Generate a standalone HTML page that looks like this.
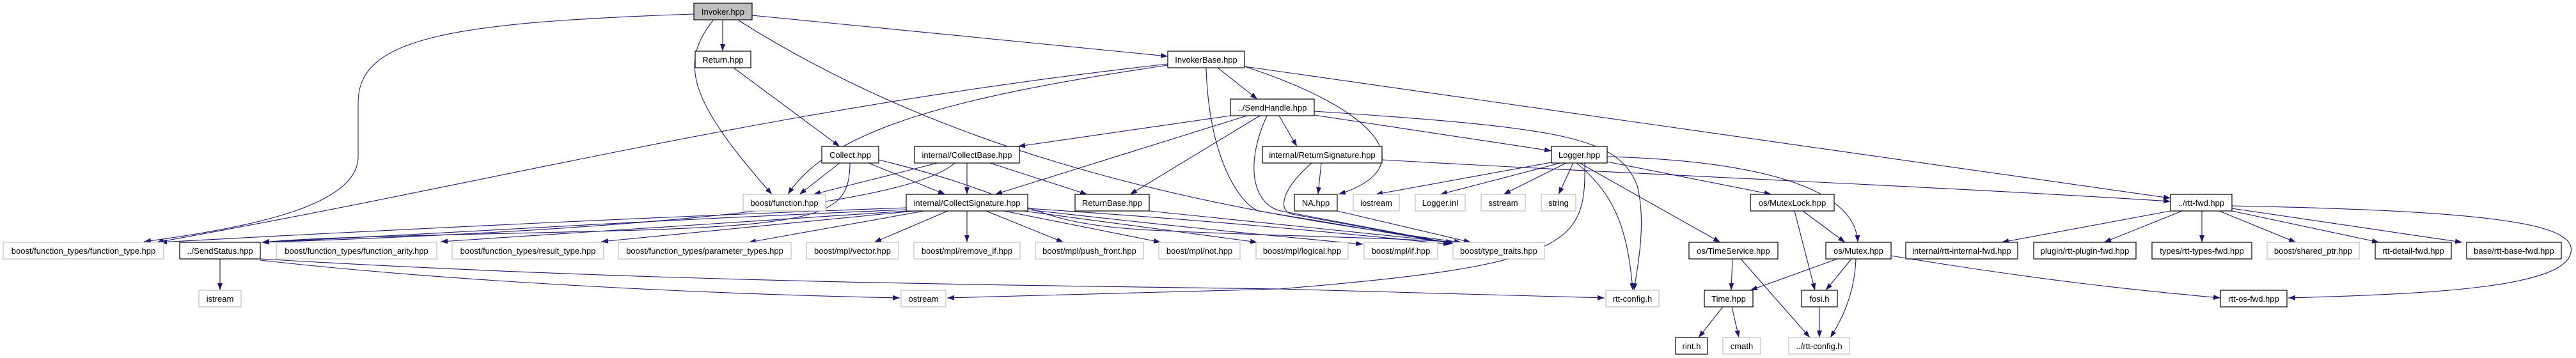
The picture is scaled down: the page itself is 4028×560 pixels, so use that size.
<!DOCTYPE html>
<html><head><meta charset="utf-8"><style>
html,body{margin:0;padding:0;background:#fff;}
svg{display:block;}
text{font-family:"Liberation Sans",sans-serif;font-size:13px;fill:#000;}
.n{fill:#fff;stroke:#000;stroke-width:1.2;}
.g{fill:#fff;stroke:#bfbfbf;stroke-width:1.2;}
.e{fill:none;stroke:#191970;stroke-width:1.1;marker-end:url(#a);}
</style></head><body>
<svg width="4028" height="560" viewBox="0 0 4028 560" xmlns="http://www.w3.org/2000/svg">
<defs><marker id="a" markerUnits="userSpaceOnUse" markerWidth="12" markerHeight="10" refX="11" refY="4" orient="auto"><path d="M0,0 L11,4 L0,8 z" fill="#191970"/></marker></defs>
<g>
<path class="e" d="M1085,22 C700,35 560,60 560,160 L560,245 C560,320 400,355 225,378"/>
<path class="e" d="M1130,32 L1130,80"/>
<path class="e" d="M1115,32 C1060,100 1080,160 1207,304"/>
<path class="e" d="M1176,24 L1826,88"/>
<path class="e" d="M1155,32 C1500,250 1900,330 2285,379"/>
<path class="e" d="M1147,106 L1313,229"/>
<path class="e" d="M1313,255 L1250,304"/>
<path class="e" d="M1358,255 L1478,304"/>
<path class="e" d="M1329,255 C1328,330 1300,350 1000,360 C700,368 500,370 410,379"/>
<path class="e" d="M1374,250 C1620,310 1600,350 1800,360 C2000,370 2200,372 2272,379"/>
<path class="e" d="M1466,255 L1272,304"/>
<path class="e" d="M1512,255 L1512,304"/>
<path class="e" d="M1548,255 L1700,304"/>
<path class="e" d="M1493,255 C1420,320 1000,360 410,379"/>
<path class="e" d="M1826,102 C1500,150 1300,200 1232,304"/>
<path class="e" d="M1826,100 C1200,170 800,280 245,379"/>
<path class="e" d="M1904,106 L1966,155"/>
<path class="e" d="M1886,106 C1890,250 1940,320 1968,330 L2272,381"/>
<path class="e" d="M1946,104 C2150,170 2230,260 2093,304"/>
<path class="e" d="M1946,104 L3394,310"/>
<path class="e" d="M1924,181 L1592,229"/>
<path class="e" d="M1950,181 L1556,304"/>
<path class="e" d="M1970,181 L1767,304"/>
<path class="e" d="M2000,181 L2028,229"/>
<path class="e" d="M2055,180 L2426,236"/>
<path class="e" d="M2055,174 C2450,200 2530,215 2560,290 C2575,350 2560,420 2555,454"/>
<path class="e" d="M1981,181 C1945,260 1960,320 2003,330 L2272,381"/>
<path class="e" d="M2051,255 C2000,300 2000,330 2020,335 L2272,381"/>
<path class="e" d="M2066,255 L2061,304"/>
<path class="e" d="M2161,250 C2600,275 3000,290 3394,315"/>
<path class="e" d="M1417,325 C1000,340 600,360 250,379"/>
<path class="e" d="M1417,328 C1000,345 700,365 409,379"/>
<path class="e" d="M1420,330 L689,378"/>
<path class="e" d="M1430,330 L940,378"/>
<path class="e" d="M1445,330 L1171,379"/>
<path class="e" d="M1482,330 L1367,379"/>
<path class="e" d="M1512,330 L1512,379"/>
<path class="e" d="M1542,330 L1663,379"/>
<path class="e" d="M1570,330 L1815,379"/>
<path class="e" d="M1600,330 L1966,379"/>
<path class="e" d="M1607,328 C1800,350 2000,370 2131,382"/>
<path class="e" d="M1607,326 C1900,345 2100,365 2268,382"/>
<path class="e" d="M1797,330 L2272,379"/>
<path class="e" d="M2091,330 L2300,379"/>
<path class="e" d="M2426,254 L2151,304"/>
<path class="e" d="M2440,255 L2252,304"/>
<path class="e" d="M2449,255 L2351,304"/>
<path class="e" d="M2460,255 L2437,304"/>
<path class="e" d="M2513,253 L2770,304"/>
<path class="e" d="M2513,245 C2700,250 2900,280 2905,379"/>
<path class="e" d="M2470,255 L2690,379"/>
<path class="e" d="M2465,255 C2520,300 2545,350 2553,454"/>
<path class="e" d="M2478,255 C2480,380 2460,415 2000,452 L1481,466"/>
<path class="e" d="M344,405 L344,454"/>
<path class="e" d="M407,407 C700,440 1100,460 1407,466"/>
<path class="e" d="M407,405 C1000,440 1500,445 2000,452 L2509,466"/>
<path class="e" d="M2819,330 L2885,379"/>
<path class="e" d="M2806,330 L2838,454"/>
<path class="e" d="M2873,405 L2737,454"/>
<path class="e" d="M2895,405 L2855,454"/>
<path class="e" d="M2902,405 C2900,460 2880,500 2862,528"/>
<path class="e" d="M2957,400 C3200,440 3350,455 3472,466"/>
<path class="e" d="M2709,405 L2707,454"/>
<path class="e" d="M2722,405 L2830,528"/>
<path class="e" d="M2694,480 L2656,528"/>
<path class="e" d="M2708,480 L2719,528"/>
<path class="e" d="M2845,480 L2845,528"/>
<path class="e" d="M3394,330 L3130,379"/>
<path class="e" d="M3412,330 L3290,379"/>
<path class="e" d="M3443,330 L3443,379"/>
<path class="e" d="M3470,330 L3590,379"/>
<path class="e" d="M3490,330 L3720,379"/>
<path class="e" d="M3490,326 L3850,379"/>
<path class="e" d="M3490,322 C3900,330 4030,350 4020,395 C4010,450 3800,460 3578,466"/>
</g>
<g>
<rect x="1085" y="5" width="91" height="26" fill="#bfbfbf" stroke="#000" stroke-width="1.2"/><text x="1130.5" y="23" text-anchor="middle">Invoker.hpp</text>
<rect class="n" x="1087" y="80" width="87" height="26"/><text x="1130.5" y="98" text-anchor="middle">Return.hpp</text>
<rect class="n" x="1826" y="80" width="120" height="26"/><text x="1886" y="98" text-anchor="middle">InvokerBase.hpp</text>
<rect class="n" x="1924" y="155" width="131" height="26"/><text x="1989.5" y="173" text-anchor="middle">../SendHandle.hpp</text>
<rect class="n" x="1285" y="229" width="89" height="26"/><text x="1329.5" y="247" text-anchor="middle">Collect.hpp</text>
<rect class="n" x="1430" y="229" width="164" height="26"/><text x="1512" y="247" text-anchor="middle">internal/CollectBase.hpp</text>
<rect class="n" x="1974" y="229" width="187" height="26"/><text x="2067.5" y="247" text-anchor="middle">internal/ReturnSignature.hpp</text>
<rect class="n" x="2426" y="229" width="87" height="26"/><text x="2469.5" y="247" text-anchor="middle">Logger.hpp</text>
<rect class="g" x="1162" y="304" width="129" height="26"/><text x="1226.5" y="322" text-anchor="middle">boost/function.hpp</text>
<rect class="n" x="1417" y="304" width="190" height="26"/><text x="1512" y="322" text-anchor="middle">internal/CollectSignature.hpp</text>
<rect class="n" x="1681" y="304" width="116" height="26"/><text x="1739" y="322" text-anchor="middle">ReturnBase.hpp</text>
<rect class="n" x="2024" y="304" width="67" height="26"/><text x="2057.5" y="322" text-anchor="middle">NA.hpp</text>
<rect class="g" x="2116" y="304" width="72" height="26"/><text x="2152" y="322" text-anchor="middle">iostream</text>
<rect class="g" x="2213" y="304" width="78" height="26"/><text x="2252" y="322" text-anchor="middle">Logger.inl</text>
<rect class="g" x="2316" y="304" width="69" height="26"/><text x="2350.5" y="322" text-anchor="middle">sstream</text>
<rect class="g" x="2410" y="304" width="54" height="26"/><text x="2437" y="322" text-anchor="middle">string</text>
<rect class="n" x="2737" y="304" width="131" height="26"/><text x="2802.5" y="322" text-anchor="middle">os/MutexLock.hpp</text>
<rect class="n" x="3394" y="304" width="96" height="26"/><text x="3442" y="322" text-anchor="middle">../rtt-fwd.hpp</text>
<rect class="g" x="5" y="379" width="251" height="26"/><text x="130.5" y="397" text-anchor="middle">boost/function_types/function_type.hpp</text>
<rect class="n" x="281" y="379" width="126" height="26"/><text x="344" y="397" text-anchor="middle">../SendStatus.hpp</text>
<rect class="g" x="432" y="379" width="251" height="26"/><text x="557.5" y="397" text-anchor="middle">boost/function_types/function_arity.hpp</text>
<rect class="g" x="707" y="379" width="237" height="26"/><text x="825.5" y="397" text-anchor="middle">boost/function_types/result_type.hpp</text>
<rect class="g" x="967" y="379" width="270" height="26"/><text x="1102" y="397" text-anchor="middle">boost/function_types/parameter_types.hpp</text>
<rect class="g" x="1261" y="379" width="144" height="26"/><text x="1333" y="397" text-anchor="middle">boost/mpl/vector.hpp</text>
<rect class="g" x="1429" y="379" width="166" height="26"/><text x="1512" y="397" text-anchor="middle">boost/mpl/remove_if.hpp</text>
<rect class="g" x="1619" y="379" width="169" height="26"/><text x="1703.5" y="397" text-anchor="middle">boost/mpl/push_front.hpp</text>
<rect class="g" x="1812" y="379" width="127" height="26"/><text x="1875.5" y="397" text-anchor="middle">boost/mpl/not.hpp</text>
<rect class="g" x="1964" y="379" width="144" height="26"/><text x="2036" y="397" text-anchor="middle">boost/mpl/logical.hpp</text>
<rect class="g" x="2133" y="379" width="115" height="26"/><text x="2190.5" y="397" text-anchor="middle">boost/mpl/if.hpp</text>
<rect class="g" x="2272" y="379" width="143" height="26"/><text x="2343.5" y="397" text-anchor="middle">boost/type_traits.hpp</text>
<rect class="n" x="2641" y="379" width="139" height="26"/><text x="2710.5" y="397" text-anchor="middle">os/TimeService.hpp</text>
<rect class="n" x="2855" y="379" width="102" height="26"/><text x="2906" y="397" text-anchor="middle">os/Mutex.hpp</text>
<rect class="n" x="2980" y="379" width="175" height="26"/><text x="3067.5" y="397" text-anchor="middle">internal/rtt-internal-fwd.hpp</text>
<rect class="n" x="3180" y="379" width="160" height="26"/><text x="3260" y="397" text-anchor="middle">plugin/rtt-plugin-fwd.hpp</text>
<rect class="n" x="3365" y="379" width="156" height="26"/><text x="3443" y="397" text-anchor="middle">types/rtt-types-fwd.hpp</text>
<rect class="g" x="3545" y="379" width="144" height="26"/><text x="3617" y="397" text-anchor="middle">boost/shared_ptr.hpp</text>
<rect class="n" x="3714" y="379" width="119" height="26"/><text x="3773.5" y="397" text-anchor="middle">rtt-detail-fwd.hpp</text>
<rect class="n" x="3857" y="379" width="148" height="26"/><text x="3931" y="397" text-anchor="middle">base/rtt-base-fwd.hpp</text>
<rect class="g" x="311" y="454" width="66" height="26"/><text x="344" y="472" text-anchor="middle">istream</text>
<rect class="g" x="1409" y="454" width="70" height="26"/><text x="1444" y="472" text-anchor="middle">ostream</text>
<rect class="g" x="2511" y="454" width="83" height="26"/><text x="2552.5" y="472" text-anchor="middle">rtt-config.h</text>
<rect class="n" x="2665" y="454" width="76" height="26"/><text x="2703" y="472" text-anchor="middle">Time.hpp</text>
<rect class="n" x="2817" y="454" width="56" height="26"/><text x="2845" y="472" text-anchor="middle">fosi.h</text>
<rect class="n" x="3472" y="454" width="104" height="26"/><text x="3524" y="472" text-anchor="middle">rtt-os-fwd.hpp</text>
<rect class="n" x="2620" y="528" width="50" height="26"/><text x="2645" y="546" text-anchor="middle">rint.h</text>
<rect class="g" x="2694" y="528" width="59" height="26"/><text x="2723.5" y="546" text-anchor="middle">cmath</text>
<rect class="g" x="2797" y="528" width="95" height="26"/><text x="2844.5" y="546" text-anchor="middle">../rtt-config.h</text>
</g>
</svg>
</body></html>
